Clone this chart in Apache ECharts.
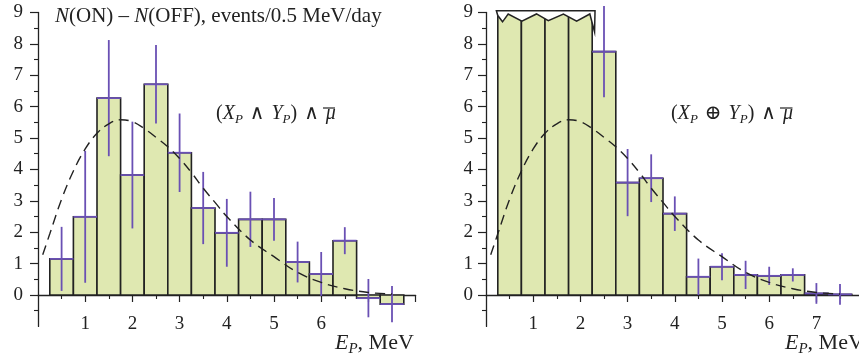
<!DOCTYPE html>
<html>
<head>
<meta charset="utf-8">
<script src="https://cdn.jsdelivr.net/npm/echarts@6/dist/echarts.min.js"></script>
<style>
  html, body { margin: 0; padding: 0; background: #fff; }
  #chart { width: 859px; height: 358px; }
</style>
</head>
<body>
<div id="chart"></div>
<script>
// bin centres, MeV (bin width 0.5)
var centers = [0.5, 1.0, 1.5, 2.0, 2.5, 3.0, 3.5, 4.0, 4.5, 5.0, 5.5, 6.0, 6.5, 7.0, 7.5];

// (X ∧ Y) ∧ anti-mu
var andValues = [1.15, 2.49, 6.27, 3.82, 6.71, 4.53, 2.77, 1.98, 2.41, 2.41, 1.05, 0.67, 1.73, -0.10, -0.29];
var andErrors = [1.02, 2.10, 1.85, 1.70, 1.25, 1.25, 1.15, 1.08, 0.88, 0.68, 0.65, 0.70, 0.43, 0.61, 0.58];

// (X ⊕ Y) ∧ anti-mu, first four bins are off scale (> 9)
var xorValues = [9, 9, 9, 9, 7.75, 3.58, 3.72, 2.59, 0.58, 0.90, 0.64, 0.61, 0.64, 0.05, 0.02];
var xorErrors = [null, null, null, null, 1.45, 1.07, 0.76, 0.55, 0.58, 0.43, 0.45, 0.29, 0.21, 0.33, 0.33];

// expected spectrum (dashed)
var curveE = [0.1, 0.25, 0.5, 0.75, 1.0, 1.25, 1.5, 1.75, 2.0, 2.25, 2.5, 2.75, 3.0, 3.25, 3.5, 3.75, 4.0, 4.5, 5.0, 5.5, 6.0, 6.5, 7.0, 7.5];
var curveV = [1.28, 1.95, 3.05, 3.95, 4.65, 5.15, 5.45, 5.58, 5.52, 5.3, 5.02, 4.72, 4.35, 3.9, 3.4, 2.95, 2.5, 1.75, 1.22, 0.72, 0.4, 0.2, 0.08, 0.03];

// scale break over the off-scale bins (data space)
var breakE = [0.22, 2.31, 2.3, 2.2, 1.92, 1.64, 1.32, 1.07, 0.76, 0.47, 0.35, 0.25];
var breakV = [9.05, 9.05, 8.38, 8.95, 8.72, 8.95, 8.74, 8.95, 8.72, 8.95, 8.7, 8.9];

var yTicks = [0, 1, 2, 3, 4, 5, 6, 7, 8, 9];
var xMajorTicks = [1, 2, 3, 4, 5, 6, 7, 8];
var xTicksLeft = [1, 2, 3, 4, 5, 6];
var xTicksRight = [1, 2, 3, 4, 5, 6, 7];

var HALF = 0.25;
var GREEN = '#dfe8b1';
var PURPLE = '#6a50b4';
var INK = '#222';
var FONT = '"Liberation Serif", "DejaVu Serif", serif';
var GRID_H = 314;   // y from -1 to 9

function pairs(xs, ys) {
  return xs.map(function (x, i) { return [x, ys[i]]; });
}
function triples(xs, ys, es) {
  var out = [];
  xs.forEach(function (x, i) { if (es[i] != null) out.push([x, ys[i], es[i]]); });
  return out;
}

function barItem(params, api) {
  var x = api.value(0), v = api.value(1);
  var p0 = api.coord([x - HALF, 0]);
  var p1 = api.coord([x + HALF, v]);
  return {
    type: 'rect',
    shape: { x: p0[0], y: Math.min(p0[1], p1[1]), width: p1[0] - p0[0], height: Math.abs(p1[1] - p0[1]) },
    style: { fill: GREEN, stroke: INK, lineWidth: 1.6 }
  };
}

function errItem(params, api) {
  var x = api.value(0), v = api.value(1), e = api.value(2);
  var a = api.coord([x - HALF, v]), b = api.coord([x + HALF, v]);
  var lo = api.coord([x, v - e]), hi = api.coord([x, v + e]);
  var st = { stroke: PURPLE, lineWidth: 1.8 };
  return {
    type: 'group',
    children: [
      { type: 'line', shape: { x1: a[0], y1: a[1], x2: b[0], y2: b[1] }, style: st },
      { type: 'line', shape: { x1: lo[0], y1: lo[1], x2: hi[0], y2: hi[1] }, style: st }
    ]
  };
}

function breakItem(params, api) {
  var pts = breakE.map(function (e, i) { return api.coord([e, breakV[i]]); });
  return {
    type: 'polygon',
    shape: { points: pts },
    style: { fill: '#fff', stroke: INK, lineWidth: 1.5 }
  };
}

function xAxis(idx, labels) {
  return {
    type: 'value', gridIndex: idx, min: 0, max: 8, interval: 1,
    // axis sits on y = 0: one unit above the bottom of the grid
    offset: -GRID_H / 10,
    axisLine: { onZero: false, lineStyle: { color: INK, width: 1.3 } },
    axisTick: { show: true, length: 7, customValues: xMajorTicks, lineStyle: { color: INK, width: 1.2 } },
    minorTick: { show: true, splitNumber: 2, length: 4, lineStyle: { color: INK, width: 1.1 } },
    axisLabel: { customValues: labels, margin: 20, fontFamily: FONT, fontSize: 19, color: INK },
    splitLine: { show: false }
  };
}
function yAxis(idx, margin) {
  return {
    type: 'value', gridIndex: idx, min: -1, max: 9, interval: 1,
    axisLine: { show: true, lineStyle: { color: INK, width: 1.3 } },
    axisTick: { show: true, length: 8, customValues: yTicks, lineStyle: { color: INK, width: 1.2 } },
    minorTick: { show: true, splitNumber: 2, length: 4, lineStyle: { color: INK, width: 1.1 } },
    axisLabel: { customValues: yTicks, margin: margin, fontFamily: FONT, fontSize: 19, color: INK },
    splitLine: { show: false }
  };
}

function rich(size) {
  return {
    i: { fontFamily: FONT, fontSize: size, fontStyle: 'italic', color: INK },
    s: { fontFamily: FONT, fontSize: Math.round(size * 0.66), fontStyle: 'italic', color: INK, padding: [Math.round(size * 0.55), 0, 0, 0] },
    n: { fontFamily: FONT, fontSize: size, color: INK },
    m: { fontFamily: '"DejaVu Serif", serif', fontSize: size, color: INK, padding: [0, 7, 0, 7] }
  };
}

function label(text, left, top, size) {
  return {
    type: 'text', left: left, top: top,
    style: { text: text, rich: rich(size), font: size + 'px ' + FONT, fill: INK }
  };
}
function bar(x1, x2, y) {
  return { type: 'line', shape: { x1: x1, y1: y, x2: x2, y2: y }, style: { stroke: INK, lineWidth: 1.2 } };
}

var chart = echarts.init(document.getElementById('chart'));
chart.setOption({
  animation: false,
  grid: [
    { left: 38, top: 12.4, width: 377.6, height: GRID_H, outerBoundsMode: 'none', containLabel: false },
    { left: 486, top: 12.4, width: 377.6, height: GRID_H, outerBoundsMode: 'none', containLabel: false }
  ],
  xAxis: [xAxis(0, xTicksLeft), xAxis(1, xTicksRight)],
  yAxis: [yAxis(0, 15), yAxis(1, 13)],
  graphic: [
    label('{i|N}{n|(ON) – }{i|N}{n|(OFF), events/0.5 MeV/day}', 55, 6, 21),
    label('{n|(}{i|X}{s|P}{m|∧}{i|Y}{s|P}{n|)}{m|∧}{i|μ}', 216, 104, 20),
    label('{n|(}{i|X}{s|P}{m|⊕}{i|Y}{s|P}{n|)}{m|∧}{i|μ}', 671, 104, 20),
    bar(323, 335, 108),
    bar(780, 792.5, 108),
    label('{i|E}{s|P}{n|, MeV}', 335, 332, 22),
    label('{i|E}{s|P}{n|, MeV}', 785, 332, 22)
  ],
  series: [
    { type: 'custom', xAxisIndex: 0, yAxisIndex: 0, renderItem: barItem, data: pairs(centers, andValues), z: 2 },
    { type: 'custom', xAxisIndex: 1, yAxisIndex: 1, renderItem: barItem, data: pairs(centers, xorValues), z: 2 },
    { type: 'custom', xAxisIndex: 1, yAxisIndex: 1, renderItem: breakItem, data: [[0, 0]], z: 3 },
    { type: 'custom', xAxisIndex: 0, yAxisIndex: 0, renderItem: errItem, data: triples(centers, andValues, andErrors), z: 4 },
    { type: 'custom', xAxisIndex: 1, yAxisIndex: 1, renderItem: errItem, data: triples(centers, xorValues, xorErrors), z: 4 },
    {
      type: 'line', xAxisIndex: 0, yAxisIndex: 0, data: pairs(curveE, curveV), smooth: 0.4,
      showSymbol: false, symbol: 'none', lineStyle: { color: INK, width: 1.4, type: [10, 6] }, z: 5
    },
    {
      type: 'line', xAxisIndex: 1, yAxisIndex: 1, data: pairs(curveE, curveV), smooth: 0.4,
      showSymbol: false, symbol: 'none', lineStyle: { color: INK, width: 1.4, type: [10, 6] }, z: 5
    }
  ]
});
</script>
</body>
</html>
